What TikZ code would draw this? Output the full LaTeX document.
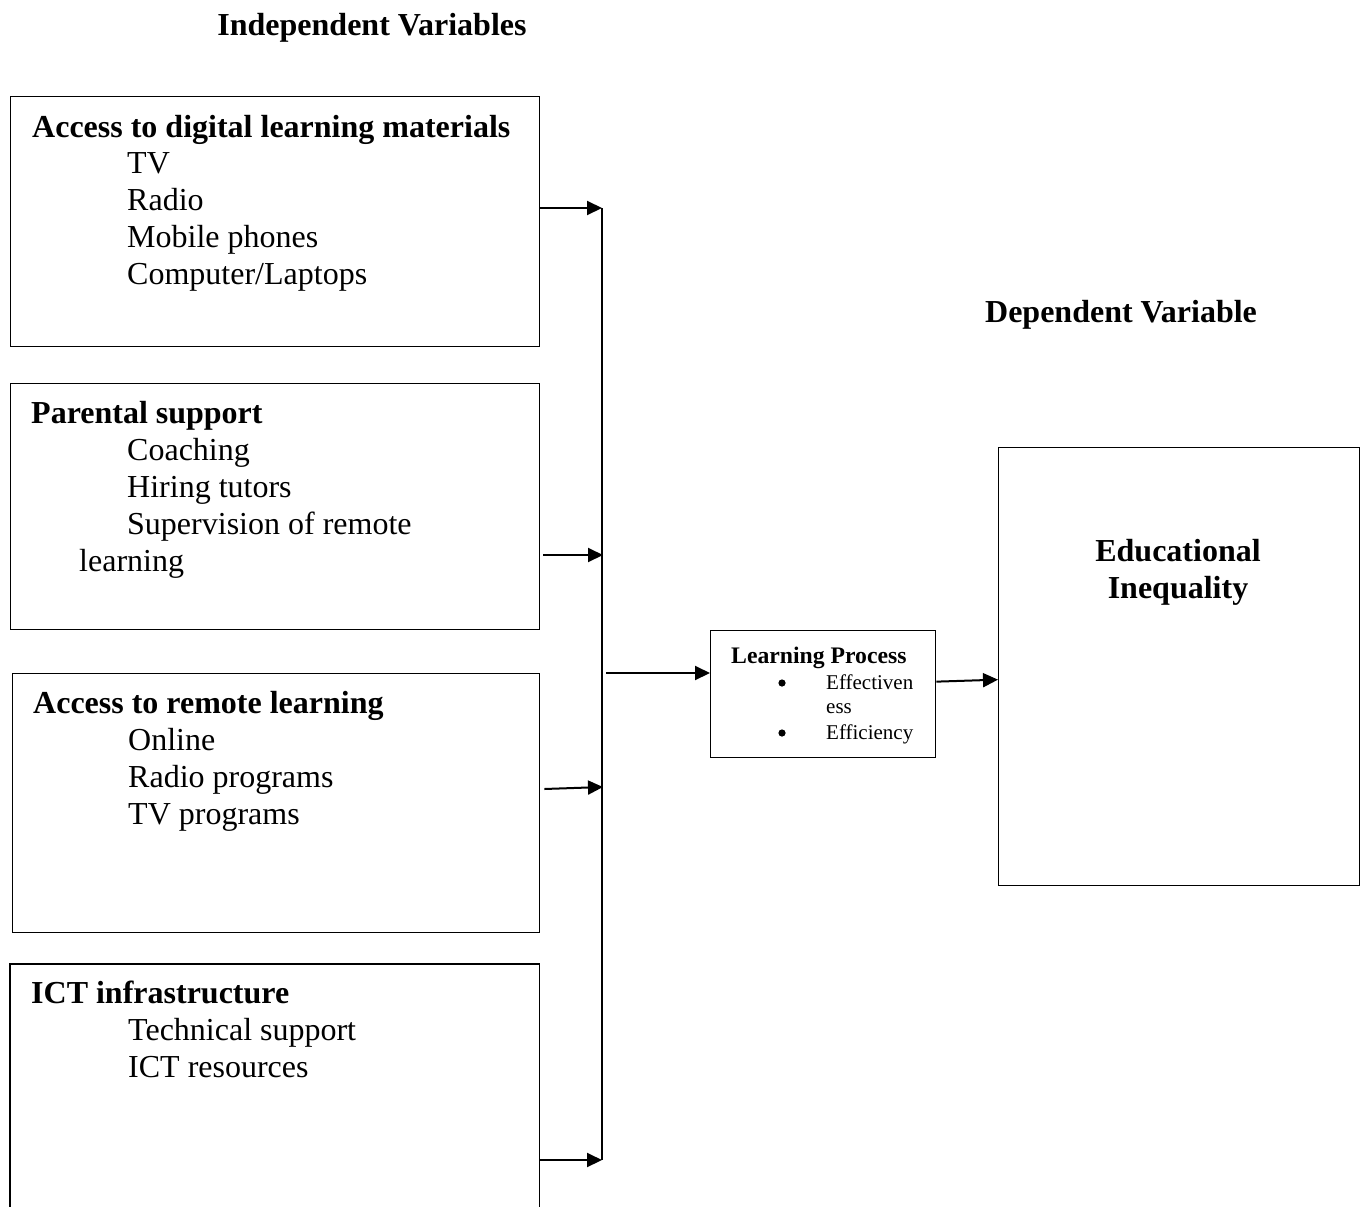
\documentclass[tikz,border=0pt]{standalone}
\usepackage{fontspec}
\setmainfont{Liberation Serif}
\usetikzlibrary{arrows.meta}
\begin{document}
\begin{tikzpicture}[x=1pt,y=-1pt,
  box/.style={draw,line width=1.3pt,inner sep=0pt,anchor=north west},
  txt/.style={anchor=base west,inner sep=0pt,font=\fontsize{32}{37}\selectfont},
  btxt/.style={txt,font=\fontsize{32}{37}\selectfont\bfseries},
  stxt/.style={anchor=base west,inner sep=0pt,font=\fontsize{21}{25}\selectfont},
  arr/.style={line width=2pt,-{Triangle[length=15pt,width=14pt]}},
  bus/.style={line width=2pt}]
\useasboundingbox (0,0) rectangle (1365,1207);
% titles
\node[btxt,anchor=base] (tind) at (372,36) {Independent Variables};
\node[btxt,anchor=base] (tdep) at (1121,322) {Dependent Variable};
% box 1
\node[box,minimum width=529pt,minimum height=250pt] (b1) at (10,96) {};
\node[btxt] (b1t) at (32,137) {Access to digital learning materials};
\node[txt] (b1a) at (127,173) {TV};
\node[txt] (b1b) at (127,210) {Radio};
\node[txt] (b1c) at (127,247) {Mobile phones};
\node[txt] (b1d) at (127,284) {Computer/Laptops};
% box 2
\node[box,minimum width=529pt,minimum height=246pt] (b2) at (10,383) {};
\node[btxt] (b2t) at (31,423) {Parental support};
\node[txt] (b2a) at (127,460) {Coaching};
\node[txt] (b2b) at (127,497) {Hiring tutors};
\node[txt] (b2c) at (127,534) {Supervision of remote};
\node[txt] (b2d) at (79,571) {learning};
% box 3
\node[box,minimum width=527pt,minimum height=259pt] (b3) at (12,673) {};
\node[btxt] (b3t) at (33,713) {Access to remote learning};
\node[txt] (b3a) at (128,750) {Online};
\node[txt] (b3b) at (128,787) {Radio programs};
\node[txt] (b3c) at (128,824) {TV programs};
% box 4 (cut by the lower edge)
\node[anchor=north west,inner sep=0pt,minimum width=529pt,minimum height=243pt] (b4) at (10,964) {};
\draw[line width=1.3pt] (b4.south west) -- (b4.north west) -- (b4.north east) -- (b4.south east);
\node[btxt] (b4t) at (31,1003) {ICT infrastructure};
\node[txt] (b4a) at (128,1040) {Technical support};
\node[txt] (b4b) at (128,1077) {ICT resources};
% learning process
\node[box,minimum width=225pt,minimum height=127pt] (lp) at (710,630) {};
\node[anchor=base west,inner sep=0pt,font=\fontsize{23.7}{26}\selectfont\bfseries] (lpt) at (731,663) {Learning Process};
\node[stxt] (lpa) at (826,689) {Effectiven};
\node[stxt] (lpb) at (826,713) {ess};
\node[stxt] (lpc) at (826,739) {Efficiency};
\fill (782,683) circle (3.6pt);
\fill (782,733) circle (3.6pt);
% educational inequality
\node[box,minimum width=361pt,minimum height=438pt] (ei) at (998,447) {};
\node[btxt,anchor=base] (eia) at (1178,561) {Educational};
\node[btxt,anchor=base] (eib) at (1178,598) {Inequality};
% bus
\coordinate (p1) at (602,208);
\coordinate (p2) at (603,555);
\coordinate (p3) at (603,787);
\coordinate (p4) at (602,1160);
\coordinate (j) at (606,673);
\draw[bus] (p1) -- (p4);
\draw[arr] (b1.east |- p1) -- (p1);
\draw[arr] ([xshift=3pt]b2.east |- p2) -- (p2);
\draw[arr] ([xshift=4pt]b3.east |- 0,789) -- (p3);
\draw[arr] (b4.east |- p4) -- (p4);
\draw[arr] (j) -- (j -| lp.west);
\draw[arr] ([yshift=12.5pt]lp.east) -- ([yshift=-13pt]ei.west);
\end{tikzpicture}
\end{document}
